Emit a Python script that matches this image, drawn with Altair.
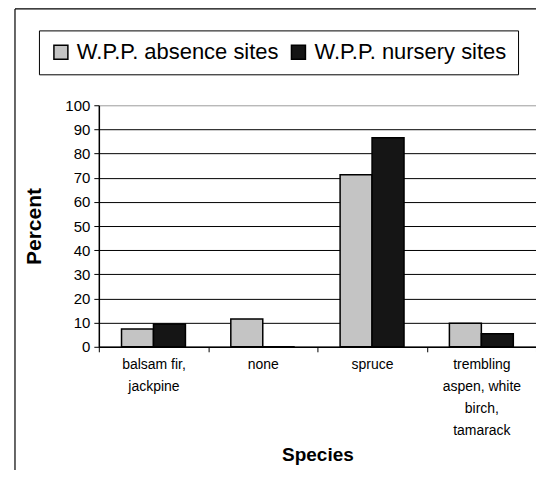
import altair as alt
import pandas as pd

categories = ["balsam fir,|jackpine", "none", "spruce", "trembling|aspen, white|birch,|tamarack"]
series = ["W.P.P. absence sites", "W.P.P. nursery sites"]
absence = [7.4, 11.5, 71.2, 9.7]
nursery = [9.4, 0.0, 86.5, 5.4]
y_ticks = [0, 10, 20, 30, 40, 50, 60, 70, 80, 90, 100]

rows = []
for c, a, n in zip(categories, absence, nursery):
    rows.append({"species": c, "series": series[0], "value": a})
    rows.append({"species": c, "series": series[1], "value": n})
df = pd.DataFrame(rows)

FONT = "Liberation Sans"

bars = alt.Chart(df).mark_bar(stroke="black", strokeWidth=1.5).encode(
    x=alt.X(
        "species:N",
        sort=categories,
        scale=alt.Scale(paddingInner=0, paddingOuter=0),
        axis=alt.Axis(
            title="Species",
            labelExpr="split(datum.label, '|')",
            labelAngle=0,
            tickBand="extent",
            tickSize=5,
            tickColor="black",
            domainColor="black",
            domainWidth=1.5,
            labelFont=FONT,
            labelFontSize=14,
            labelColor="black",
            labelLineHeight=22,
            labelPadding=6,
            titleFont=FONT,
            titleFontSize=19,
            titleFontWeight="bold",
            titleColor="black",
            titlePadding=8,
        ),
    ),
    xOffset=alt.XOffset("series:N", sort=series,
                        scale=alt.Scale(paddingInner=0, paddingOuter=0.71)),
    y=alt.Y(
        "value:Q",
        scale=alt.Scale(domain=[0, 100], nice=False),
        axis=alt.Axis(
            values=y_ticks,
            title="Percent",
            grid=True,
            gridColor={"condition": {"test": "datum.value === 100", "value": "#aaaaaa"}, "value": "black"},
            gridWidth=1,
            tickSize=5,
            tickColor="black",
            domainColor="black",
            domainWidth=1.5,
            labelFont=FONT,
            labelFontSize=15,
            labelColor="black",
            labelPadding=4,
            titleFont=FONT,
            titleFontSize=21,
            titleFontWeight="bold",
            titleColor="black",
            titlePadding=20,
        ),
    ),
    color=alt.Color(
        "series:N",
        sort=series,
        scale=alt.Scale(domain=series, range=["#c4c4c4", "#151515"]),
        legend=alt.Legend(
            title=None,
            orient="none",
            direction="horizontal",
            legendX=-60,
            legendY=-75,
            symbolType="square",
            symbolSize=196,
            symbolStrokeColor="black",
            symbolStrokeWidth=1.5,
            labelFont=FONT,
            labelFontSize=22,
            labelColor="black",
            labelOffset=5,
            labelLimit=400,
            columnPadding=8,
            padding=11,
            strokeColor="black",
            fillColor="white",
        ),
    ),
)

frame = pd.DataFrame({"k": [0]})
frame_left = alt.Chart(frame).mark_rule(color="black", strokeWidth=1.2).encode(
    x=alt.value(-84), y=alt.value(-96.5), y2=alt.value(380)
)
frame_top = alt.Chart(frame).mark_rule(color="black", strokeWidth=1.2).encode(
    x=alt.value(-84), x2=alt.value(440), y=alt.value(-96.5)
)

chart = alt.layer(bars, frame_left, frame_top).properties(
    width=438,
    height=242,
    autosize=alt.AutoSizeParams(type="none"),
    padding={"left": 91, "top": 97, "right": 0, "bottom": 123},
).configure_view(
    stroke="#999999", strokeWidth=1, strokeDash=[2, 2]
).configure(background="white")

chart.save("out.html", embed_options={"renderer": "svg", "actions": False})
